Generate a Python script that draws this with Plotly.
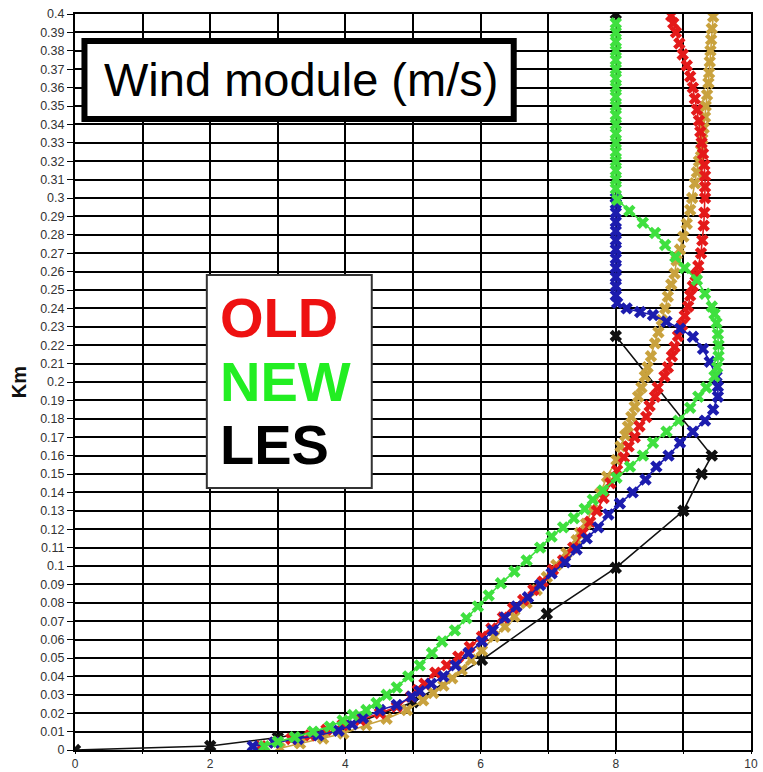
import plotly.graph_objects as go

# Wind speed profiles: speed (m/s) against height (km)
les_km = [0.0, 0.0022, 0.0068, 0.0125, 0.026, 0.049, 0.074, 0.099, 0.130, 0.150, 0.160, 0.225, 0.400]
les_ms = [0.0, 2.0, 3.0, 4.0, 5.0, 6.02, 6.98, 8.0, 9.0, 9.27, 9.42, 8.0, 8.0]

gold_km = [0.001, 0.0036, 0.0063, 0.009, 0.0136, 0.017, 0.0217, 0.027, 0.031, 0.035,
           0.039, 0.0435, 0.049, 0.054, 0.0616, 0.067, 0.0725, 0.080, 0.087, 0.094,
           0.1005, 0.107, 0.114, 0.118, 0.123, 0.131, 0.1395, 0.1485, 0.1576, 0.165,
           0.171, 0.1757, 0.181, 0.1866, 0.192, 0.197, 0.203, 0.208, 0.214, 0.221,
           0.227, 0.2337, 0.240, 0.2464, 0.253, 0.259, 0.266, 0.272, 0.279, 0.286,
           0.2935, 0.300, 0.308, 0.314, 0.320, 0.326, 0.332, 0.338, 0.344, 0.350,
           0.356, 0.3625, 0.368, 0.374, 0.380, 0.386, 0.392, 0.3985]
gold_ms = [3.03, 3.33, 3.67, 3.97, 4.31, 4.61, 4.91, 5.15, 5.30, 5.45,
           5.58, 5.72, 5.86, 6.02, 6.20, 6.36, 6.50, 6.68, 6.83, 6.98,
           7.12, 7.27, 7.42, 7.47, 7.56, 7.65, 7.77, 7.87, 8.01, 8.07,
           8.14, 8.18, 8.23, 8.28, 8.33, 8.38, 8.43, 8.47, 8.52, 8.58,
           8.63, 8.68, 8.73, 8.77, 8.82, 8.87, 8.90, 8.95, 9.00, 9.05,
           9.10, 9.13, 9.17, 9.20, 9.23, 9.26, 9.28, 9.30, 9.32, 9.33,
           9.35, 9.37, 9.38, 9.39, 9.40, 9.41, 9.42, 9.44]

old_km = [0.002, 0.004, 0.006, 0.008, 0.011, 0.0136, 0.0163, 0.020, 0.0235, 0.029,
          0.0326, 0.036, 0.042, 0.046, 0.0507, 0.056, 0.0616, 0.066, 0.072, 0.077,
          0.0815, 0.087, 0.0915, 0.098, 0.103, 0.110, 0.118, 0.124, 0.130, 0.137,
          0.145, 0.152, 0.159, 0.165, 0.170, 0.176, 0.181, 0.187, 0.192, 0.197,
          0.203, 0.208, 0.214, 0.219, 0.225, 0.231, 0.236, 0.241, 0.247, 0.252,
          0.258, 0.263, 0.270, 0.277, 0.285, 0.292, 0.300, 0.306, 0.312, 0.318,
          0.324, 0.330, 0.336, 0.342, 0.348, 0.354, 0.360, 0.366, 0.372, 0.378,
          0.384, 0.390, 0.395, 0.399]
old_ms = [2.75, 2.95, 3.20, 3.48, 3.72, 3.96, 4.22, 4.51, 4.76, 4.97,
          5.07, 5.17, 5.33, 5.50, 5.67, 5.84, 6.02, 6.16, 6.33, 6.48,
          6.63, 6.78, 6.92, 7.07, 7.22, 7.37, 7.51, 7.62, 7.72, 7.82,
          7.92, 8.02, 8.12, 8.19, 8.28, 8.35, 8.45, 8.50, 8.58, 8.62,
          8.72, 8.77, 8.83, 8.87, 8.92, 8.98, 9.02, 9.07, 9.10, 9.14,
          9.18, 9.22, 9.26, 9.28, 9.30, 9.31, 9.32, 9.32, 9.32, 9.31,
          9.29, 9.27, 9.25, 9.23, 9.20, 9.17, 9.14, 9.10, 9.05, 8.99,
          8.94, 8.89, 8.85, 8.82]

blue_km = [0.002, 0.004, 0.006, 0.008, 0.0105, 0.014, 0.0174, 0.0217, 0.0245, 0.029,
           0.032, 0.036, 0.040, 0.046, 0.0527, 0.059, 0.065, 0.072, 0.078, 0.083,
           0.0897, 0.096, 0.102, 0.109, 0.115, 0.121, 0.128, 0.134, 0.140, 0.147,
           0.154, 0.160, 0.167, 0.173, 0.179, 0.185, 0.192, 0.1975, 0.203, 0.211,
           0.218, 0.2246, 0.229, 0.2328, 0.2364, 0.238, 0.240, 0.243, 0.247, 0.252,
           0.257, 0.262, 0.267, 0.272, 0.277, 0.282, 0.287, 0.292, 0.297, 0.300]
blue_ms = [2.63, 2.95, 3.30, 3.60, 3.90, 4.10, 4.26, 4.51, 4.76, 4.98,
           5.10, 5.27, 5.45, 5.63, 5.82, 6.02, 6.18, 6.36, 6.53, 6.70,
           6.88, 7.05, 7.25, 7.42, 7.57, 7.74, 7.89, 8.06, 8.25, 8.44,
           8.60, 8.78, 8.95, 9.14, 9.32, 9.44, 9.51, 9.51, 9.49, 9.39,
           9.29, 9.14, 8.95, 8.75, 8.55, 8.36, 8.16, 8.02, 8.0, 8.0,
           8.0, 8.0, 8.0, 8.0, 8.0, 8.0, 8.0, 8.0, 8.0, 8.0]

new_km = [0.002, 0.0045, 0.007, 0.010, 0.0127, 0.016, 0.019, 0.0217, 0.0255, 0.030,
          0.034, 0.040, 0.046, 0.0527, 0.059, 0.065, 0.0716, 0.078, 0.084, 0.0906,
          0.097, 0.103, 0.110, 0.116, 0.121, 0.126, 0.131, 0.136, 0.141, 0.148,
          0.154, 0.160, 0.167, 0.173, 0.179, 0.186, 0.192, 0.197, 0.203, 0.208,
          0.214, 0.220, 0.226, 0.232, 0.237, 0.241, 0.248, 0.2554, 0.262, 0.268,
          0.2745, 0.281, 0.2866, 0.293, 0.299, 0.305, 0.310, 0.315, 0.320, 0.325,
          0.330, 0.335, 0.340, 0.345, 0.350, 0.355, 0.360, 0.365, 0.370, 0.375,
          0.380, 0.385, 0.390, 0.395]
new_ms = [2.80, 3.00, 3.25, 3.52, 3.77, 3.96, 4.11, 4.31, 4.46, 4.61,
          4.76, 4.93, 5.10, 5.28, 5.43, 5.62, 5.79, 5.96, 6.12, 6.30,
          6.50, 6.68, 6.88, 7.05, 7.22, 7.38, 7.54, 7.66, 7.81, 8.01,
          8.21, 8.40, 8.55, 8.75, 8.93, 9.10, 9.22, 9.34, 9.46, 9.50,
          9.52, 9.52, 9.51, 9.49, 9.46, 9.42, 9.32, 9.20, 9.02, 8.88,
          8.73, 8.58, 8.40, 8.20, 8.02, 8.0, 8.0, 8.0, 8.0, 8.0,
          8.0, 8.0, 8.0, 8.0, 8.0, 8.0, 8.0, 8.0, 8.0, 8.0,
          8.0, 8.0, 8.0, 8.0]

x_tick_values = [0, 1, 2, 3, 4, 5, 6, 7, 8, 9, 10]
x_tick_labels = ["0", "", "2", "", "4", "", "6", "", "8", "", "10"]
y_tick_values = [i / 100 for i in range(41)]
y_tick_labels = [f"{v:g}" for v in y_tick_values]

FONT = "Liberation Sans, Arial, sans-serif"

fig = go.Figure()


def profile(xs, ys, color, name, size=11, width=1.6):
    fig.add_trace(go.Scatter(
        x=xs, y=ys, mode="lines+markers", name=name,
        line=dict(color=color, width=width),
        marker=dict(symbol="x", size=size, color=color),
        showlegend=False,
    ))


profile(les_ms, les_km, "#111111", "LES", size=11, width=1.6)
profile(gold_ms, gold_km, "#c9a23e", "gold")
profile(old_ms, old_km, "#e41a1a", "OLD")
profile(blue_ms, blue_km, "#1c1cae", "blue")
profile(new_ms, new_km, "#3fe03f", "NEW")

# framed title box
fig.add_shape(type="rect", xref="x", yref="y", x0=0.14, x1=6.49, y0=0.3429, y1=0.3853,
              line=dict(color="black", width=6), fillcolor="white", layer="above")
fig.add_annotation(x=3.35, y=0.3645, xref="x", yref="y", text="Wind module (m/s)",
                   showarrow=False, font=dict(family=FONT, size=47, color="black"))

# legend box
fig.add_shape(type="rect", xref="x", yref="y", x0=1.95, x1=4.39, y0=0.1424, y1=0.2582,
              line=dict(color="#333333", width=2), fillcolor="white", layer="above")
for label, color, yk in [("OLD", "#ee1111", 0.2348), ("NEW", "#22ee22", 0.2005), ("LES", "black", 0.1658)]:
    fig.add_annotation(x=2.12, y=yk, xref="x", yref="y", text=f"<b>{label}</b>",
                       xanchor="left", showarrow=False,
                       font=dict(family=FONT, size=56, color=color))

fig.update_layout(
    width=763, height=772,
    margin=dict(l=75, r=12, t=14, b=22, autoexpand=False),
    paper_bgcolor="white", plot_bgcolor="white",
    font=dict(family=FONT, size=13, color="#333333"),
)
fig.update_xaxes(
    range=[0, 10], tickvals=x_tick_values, ticktext=x_tick_labels,
    showgrid=True, gridcolor="black", gridwidth=1.6,
    showline=True, linecolor="black", linewidth=2, mirror=True,
    ticks="outside", ticklen=2, tickcolor="black", zeroline=False,
    tickfont=dict(size=12, color="#333333"), automargin=False,
)
fig.update_yaxes(
    range=[0, 0.4], tickvals=y_tick_values, ticktext=y_tick_labels,
    showgrid=True, gridcolor="black", gridwidth=1.6,
    showline=True, linecolor="black", linewidth=2, mirror=True,
    ticks="outside", ticklen=6, tickcolor="black", zeroline=False,
    tickfont=dict(size=12.5, color="#333333"), automargin=False,
    title=dict(text="<b>Km</b>", font=dict(size=20, color="#111111"), standoff=8),
)

fig.write_html("out.html")
